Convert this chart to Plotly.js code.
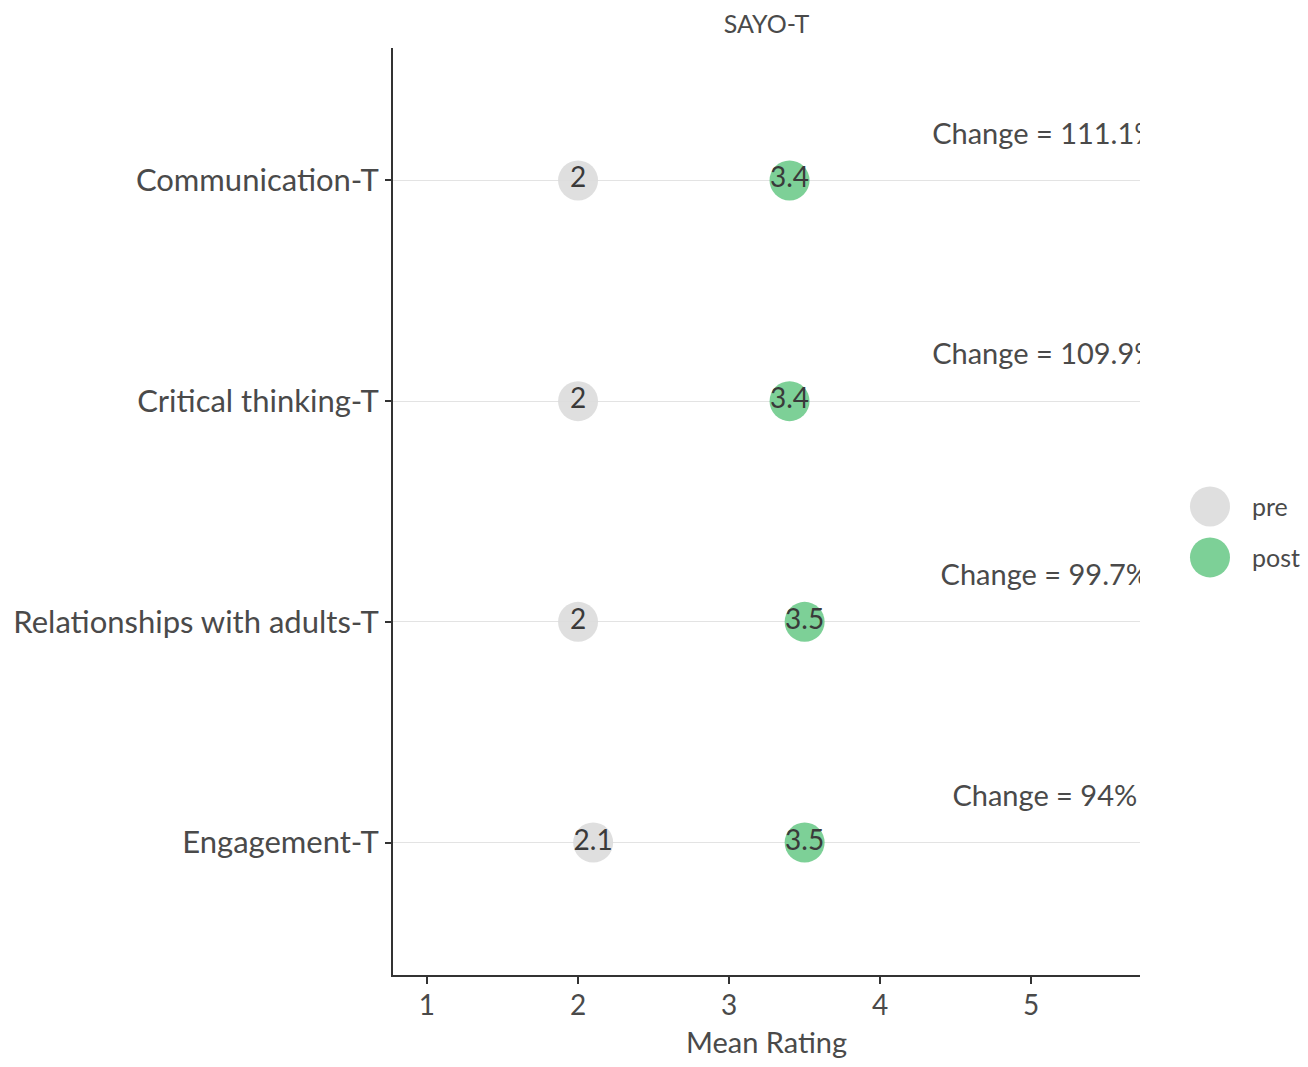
<!DOCTYPE html>
<html>
<head>
<meta charset="utf-8">
<script src="https://cdn.plot.ly/plotly-3.0.1.min.js"></script>
<style>html,body{margin:0;padding:0;background:#fff;}#chart{width:1308px;height:1067px;}</style>
</head>
<body>
<div id="chart"></div>
<script>
// Data (bottom to top order on the y axis)
const categories = ["Engagement-T", "Relationships with adults-T", "Critical thinking-T", "Communication-T"];
const preValues = [2.1, 2, 2, 2];
const postValues = [3.5, 3.5, 3.4, 3.4];
const changePct = [94, 99.7, 109.9, 111.1];
const xTicks = [1, 2, 3, 4, 5];
const seriesNames = ["pre", "post"];
const seriesColors = ["#dcdcdc", "#6fcb8c"];

const idx = categories.map((c, i) => i + 1);
const font = "Lato, 'Open Sans', sans-serif";
const txtColor = "#4a4a4a";

const tracePre = {
  x: preValues, y: idx, type: "scatter", mode: "markers+text",
  name: seriesNames[0], text: preValues.map(String), textposition: "middle center",
  textfont: {family: font, size: 28, color: "#3a3a3a"},
  marker: {size: 40, color: seriesColors[0], opacity: 0.9},
  cliponaxis: false, showlegend: false, hoverinfo: "x+y"
};
const tracePost = {
  x: postValues, y: idx, type: "scatter", mode: "markers+text",
  name: seriesNames[1], text: postValues.map(String), textposition: "middle center",
  textfont: {family: font, size: 28, color: "#3a3a3a"},
  marker: {size: 40, color: seriesColors[1], opacity: 0.9},
  cliponaxis: false, showlegend: false, hoverinfo: "x+y"
};
const traceChange = {
  x: changePct.map(() => 5.09), y: idx.map(v => v + 0.2), type: "scatter", mode: "text",
  text: changePct.map(v => "Change = " + v + "%"), textposition: "middle center",
  textfont: {family: font, size: 29, color: txtColor},
  cliponaxis: true, showlegend: false, hoverinfo: "skip"
};

const legendShapes = [];
const legendAnn = [];
seriesNames.forEach((n, i) => {
  const cy = 0.5055 - i * 0.055;
  legendShapes.push({
    type: "circle", xref: "paper", yref: "paper", xsizemode: "pixel", ysizemode: "pixel",
    xanchor: 1.0937, yanchor: cy, x0: -20, x1: 20, y0: -20, y1: 20,
    fillcolor: seriesColors[i], line: {width: 0}, opacity: 0.9
  });
  legendAnn.push({
    xref: "paper", yref: "paper", x: 1.147, y: cy, xanchor: "left", yanchor: "middle",
    text: n, showarrow: false, font: {family: font, size: 25, color: txtColor}
  });
});

const layout = {
  width: 1308, height: 1067,
  margin: {l: 393, r: 168, t: 48, b: 92},
  paper_bgcolor: "#fff", plot_bgcolor: "#fff",
  font: {family: font, color: txtColor},
  title: {text: "SAYO-T", x: 0.5, xref: "paper", y: 1 - 24 / 1067, yref: "container", yanchor: "middle",
          font: {family: font, size: 25, color: txtColor}},
  xaxis: {
    range: [0.775, 5.72], tickvals: xTicks, ticktext: xTicks.map(String),
    showgrid: false, zeroline: false, showline: true, linecolor: "#333", linewidth: 2,
    ticks: "outside", ticklen: 7, tickwidth: 2, tickcolor: "#333", ticklabelstandoff: -3,
    tickfont: {family: font, size: 28, color: txtColor},
    title: {text: "Mean Rating", font: {family: font, size: 29, color: txtColor}, standoff: 13}
  },
  yaxis: {
    range: [0.4, 4.6], tickvals: idx, ticktext: categories,
    showgrid: true, gridcolor: "#e3e3e3", gridwidth: 1.2, zeroline: false,
    showline: true, linecolor: "#333", linewidth: 2,
    ticks: "outside", ticklen: 6, tickwidth: 2, tickcolor: "#333",
    tickfont: {family: font, size: 31, color: txtColor}
  },
  shapes: legendShapes,
  annotations: legendAnn,
  showlegend: false
};

Plotly.newPlot("chart", [tracePre, tracePost, traceChange], layout, {displayModeBar: false, responsive: false});
</script>
</body>
</html>
